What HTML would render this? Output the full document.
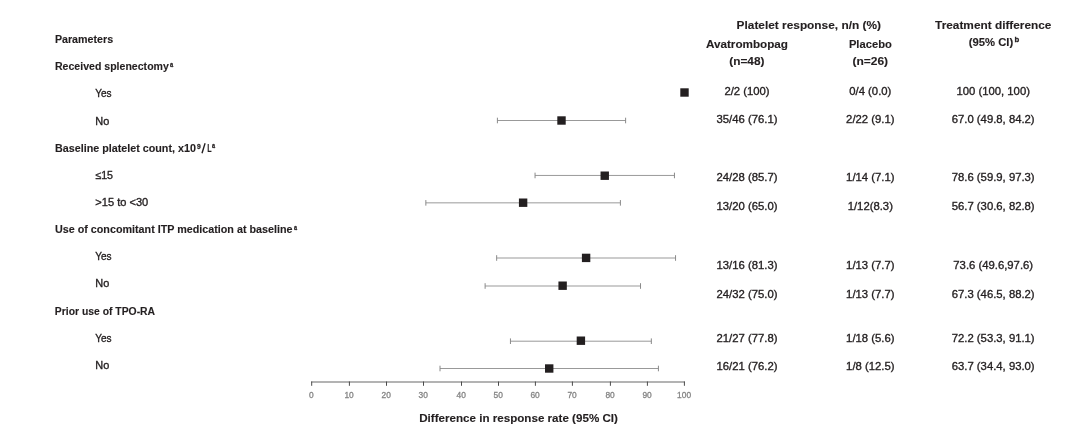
<!DOCTYPE html>
<html><head><meta charset="utf-8"><style>
html,body{margin:0;padding:0;background:#fff;width:1080px;height:436px;overflow:hidden}
svg{display:block;will-change:transform}
text{font-family:"Liberation Sans",sans-serif;fill:#231f20;stroke:#231f20;stroke-width:0.35px}
.b{font-weight:bold;stroke-width:0.12px}
.t{fill:#8a8a8a}
</style></head><body>
<svg width="1080" height="436" viewBox="0 0 1080 436">
<rect width="1080" height="436" fill="#fff"/>

<text transform="translate(54.90 43.10) scale(0.9891 1)" font-size="10.80" class="b">Parameters</text>
<text transform="translate(55.00 70.10) scale(0.9789 1)" font-size="10.80" class="b">Received splenectomy</text>
<text transform="translate(169.90 66.70) scale(0.7578 1)" font-size="7.50" class="b" style="stroke-width:0.3px">a</text>
<text transform="translate(55.00 152.00) scale(0.9954 1)" font-size="10.80" class="b">Baseline platelet count, x10</text>
<text transform="translate(197.10 148.60) scale(0.8993 1)" font-size="7.40" class="b" style="stroke-width:0.3px">9</text>
<line x1="202.0" y1="153.3" x2="205.1" y2="143.3" stroke="#231f20" stroke-width="1.35"/>
<text transform="translate(207.30 152.00) scale(0.6668 1)" font-size="10.80" class="b">L</text>
<text transform="translate(212.10 148.30) scale(0.7342 1)" font-size="7.50" class="b" style="stroke-width:0.3px">a</text>
<text transform="translate(55.00 233.00) scale(0.9964 1)" font-size="10.80" class="b">Use of concomitant ITP medication at baseline</text>
<text transform="translate(294.00 229.90) scale(0.7342 1)" font-size="7.50" class="b" style="stroke-width:0.3px">a</text>
<text transform="translate(54.80 315.00) scale(0.9625 1)" font-size="10.80" class="b">Prior use of TPO-RA</text>
<text transform="translate(95.20 97.10) scale(0.9141 1)" font-size="11.00">Yes</text>
<text transform="translate(95.30 124.70) scale(0.9959 1)" font-size="11.00">No</text>
<text transform="translate(95.30 178.90) scale(0.9687 1)" font-size="11.00">≤15</text>
<text transform="translate(95.30 205.70) scale(1.0076 1)" font-size="11.00">&gt;15 to &lt;30</text>
<text transform="translate(95.20 260.00) scale(0.9141 1)" font-size="11.00">Yes</text>
<text transform="translate(95.30 287.40) scale(0.9959 1)" font-size="11.00">No</text>
<text transform="translate(95.20 342.20) scale(0.9141 1)" font-size="11.00">Yes</text>
<text transform="translate(95.30 369.20) scale(0.9959 1)" font-size="11.00">No</text>
<text transform="translate(736.60 28.60) scale(1.0326 1)" font-size="11.50" class="b">Platelet response, n/n (%)</text>
<text transform="translate(706.00 48.20) scale(1.0171 1)" font-size="11.50" class="b">Avatrombopag</text>
<text transform="translate(729.20 64.50) scale(1.0325 1)" font-size="11.50" class="b">(n=48)</text>
<text transform="translate(848.90 48.20) scale(0.9750 1)" font-size="11.50" class="b">Placebo</text>
<text transform="translate(852.40 64.50) scale(1.0442 1)" font-size="11.50" class="b">(n=26)</text>
<text transform="translate(935.10 29.30) scale(1.0299 1)" font-size="11.50" class="b">Treatment difference</text>
<text transform="translate(968.70 45.70) scale(0.9809 1)" font-size="11.50" class="b">(95% CI)</text>
<text x="1014.40" y="42.20" font-size="7.80" class="b" style="stroke-width:0.3px">b</text>
<text x="747.00" y="94.50" font-size="11.30" text-anchor="middle">2/2 (100)</text>
<text x="870.30" y="94.50" font-size="11.30" text-anchor="middle">0/4 (0.0)</text>
<text x="993.20" y="94.50" font-size="11.30" text-anchor="middle">100 (100, 100)</text>
<text x="747.00" y="123.00" font-size="11.30" text-anchor="middle">35/46 (76.1)</text>
<text x="870.30" y="123.00" font-size="11.30" text-anchor="middle">2/22 (9.1)</text>
<text x="993.20" y="123.00" font-size="11.30" text-anchor="middle">67.0 (49.8, 84.2)</text>
<text x="747.00" y="181.30" font-size="11.30" text-anchor="middle">24/28 (85.7)</text>
<text x="870.30" y="181.30" font-size="11.30" text-anchor="middle">1/14 (7.1)</text>
<text x="993.20" y="181.30" font-size="11.30" text-anchor="middle">78.6 (59.9, 97.3)</text>
<text x="747.00" y="210.30" font-size="11.30" text-anchor="middle">13/20 (65.0)</text>
<text x="870.30" y="210.30" font-size="11.30" text-anchor="middle">1/12(8.3)</text>
<text x="993.20" y="210.30" font-size="11.30" text-anchor="middle">56.7 (30.6, 82.8)</text>
<text x="747.00" y="268.50" font-size="11.30" text-anchor="middle">13/16 (81.3)</text>
<text x="870.30" y="268.50" font-size="11.30" text-anchor="middle">1/13 (7.7)</text>
<text x="993.20" y="268.50" font-size="11.30" text-anchor="middle">73.6 (49.6,97.6)</text>
<text x="747.00" y="297.70" font-size="11.30" text-anchor="middle">24/32 (75.0)</text>
<text x="870.30" y="297.70" font-size="11.30" text-anchor="middle">1/13 (7.7)</text>
<text x="993.20" y="297.70" font-size="11.30" text-anchor="middle">67.3 (46.5, 88.2)</text>
<text x="747.00" y="341.60" font-size="11.30" text-anchor="middle">21/27 (77.8)</text>
<text x="870.30" y="341.60" font-size="11.30" text-anchor="middle">1/18 (5.6)</text>
<text x="993.20" y="341.60" font-size="11.30" text-anchor="middle">72.2 (53.3, 91.1)</text>
<text x="747.00" y="370.30" font-size="11.30" text-anchor="middle">16/21 (76.2)</text>
<text x="870.30" y="370.30" font-size="11.30" text-anchor="middle">1/8 (12.5)</text>
<text x="993.20" y="370.30" font-size="11.30" text-anchor="middle">63.7 (34.4, 93.0)</text>
<rect x="680.30" y="88.30" width="8.4" height="8.4" fill="#231f20"/>
<line x1="497.40" y1="120.50" x2="625.61" y2="120.50" stroke="#999" stroke-width="1"/>
<line x1="497.40" y1="117.70" x2="497.40" y2="123.30" stroke="#8a8a8a" stroke-width="1"/>
<line x1="625.61" y1="117.70" x2="625.61" y2="123.30" stroke="#8a8a8a" stroke-width="1"/>
<rect x="557.31" y="116.30" width="8.4" height="8.4" fill="#231f20"/>
<line x1="535.05" y1="175.45" x2="674.44" y2="175.45" stroke="#999" stroke-width="1"/>
<line x1="535.05" y1="172.65" x2="535.05" y2="178.25" stroke="#8a8a8a" stroke-width="1"/>
<line x1="674.44" y1="172.65" x2="674.44" y2="178.25" stroke="#8a8a8a" stroke-width="1"/>
<rect x="600.54" y="171.50" width="8.4" height="8.4" fill="#231f20"/>
<line x1="425.85" y1="202.85" x2="620.40" y2="202.85" stroke="#999" stroke-width="1"/>
<line x1="425.85" y1="200.05" x2="425.85" y2="205.65" stroke="#8a8a8a" stroke-width="1"/>
<line x1="620.40" y1="200.05" x2="620.40" y2="205.65" stroke="#8a8a8a" stroke-width="1"/>
<rect x="518.92" y="198.50" width="8.4" height="8.4" fill="#231f20"/>
<line x1="496.66" y1="258.00" x2="675.56" y2="258.00" stroke="#999" stroke-width="1"/>
<line x1="496.66" y1="255.20" x2="496.66" y2="260.80" stroke="#8a8a8a" stroke-width="1"/>
<line x1="675.56" y1="255.20" x2="675.56" y2="260.80" stroke="#8a8a8a" stroke-width="1"/>
<rect x="581.91" y="253.70" width="8.4" height="8.4" fill="#231f20"/>
<line x1="485.11" y1="286.00" x2="640.52" y2="286.00" stroke="#999" stroke-width="1"/>
<line x1="485.11" y1="283.20" x2="485.11" y2="288.80" stroke="#8a8a8a" stroke-width="1"/>
<line x1="640.52" y1="283.20" x2="640.52" y2="288.80" stroke="#8a8a8a" stroke-width="1"/>
<rect x="558.43" y="281.50" width="8.4" height="8.4" fill="#231f20"/>
<line x1="510.45" y1="341.20" x2="651.33" y2="341.20" stroke="#999" stroke-width="1"/>
<line x1="510.45" y1="338.40" x2="510.45" y2="344.00" stroke="#8a8a8a" stroke-width="1"/>
<line x1="651.33" y1="338.40" x2="651.33" y2="344.00" stroke="#8a8a8a" stroke-width="1"/>
<rect x="576.69" y="336.50" width="8.4" height="8.4" fill="#231f20"/>
<line x1="440.01" y1="368.50" x2="658.41" y2="368.50" stroke="#999" stroke-width="1"/>
<line x1="440.01" y1="365.70" x2="440.01" y2="371.30" stroke="#8a8a8a" stroke-width="1"/>
<line x1="658.41" y1="365.70" x2="658.41" y2="371.30" stroke="#8a8a8a" stroke-width="1"/>
<rect x="545.01" y="364.30" width="8.4" height="8.4" fill="#231f20"/>
<line x1="311.20" y1="382" x2="684.90" y2="382" stroke="#9a9a9a" stroke-width="1.7"/>
<line x1="311.70" y1="381.5" x2="311.70" y2="385.8" stroke="#4a4a4a" stroke-width="1"/>
<text x="311.40" y="398.20" font-size="8.40" text-anchor="middle" style="fill:#858585;stroke:#858585;stroke-width:0.3px">0</text>
<line x1="349.40" y1="381.5" x2="349.40" y2="385.8" stroke="#4a4a4a" stroke-width="1"/>
<text x="349.10" y="398.20" font-size="8.40" text-anchor="middle" style="fill:#858585;stroke:#858585;stroke-width:0.3px">10</text>
<line x1="386.50" y1="381.5" x2="386.50" y2="385.8" stroke="#4a4a4a" stroke-width="1"/>
<text x="386.20" y="398.20" font-size="8.40" text-anchor="middle" style="fill:#858585;stroke:#858585;stroke-width:0.3px">20</text>
<line x1="423.50" y1="381.5" x2="423.50" y2="385.8" stroke="#4a4a4a" stroke-width="1"/>
<text x="423.20" y="398.20" font-size="8.40" text-anchor="middle" style="fill:#858585;stroke:#858585;stroke-width:0.3px">30</text>
<line x1="461.50" y1="381.5" x2="461.50" y2="385.8" stroke="#4a4a4a" stroke-width="1"/>
<text x="461.20" y="398.20" font-size="8.40" text-anchor="middle" style="fill:#858585;stroke:#858585;stroke-width:0.3px">40</text>
<line x1="498.50" y1="381.5" x2="498.50" y2="385.8" stroke="#4a4a4a" stroke-width="1"/>
<text x="498.20" y="398.20" font-size="8.40" text-anchor="middle" style="fill:#858585;stroke:#858585;stroke-width:0.3px">50</text>
<line x1="535.40" y1="381.5" x2="535.40" y2="385.8" stroke="#4a4a4a" stroke-width="1"/>
<text x="535.10" y="398.20" font-size="8.40" text-anchor="middle" style="fill:#858585;stroke:#858585;stroke-width:0.3px">60</text>
<line x1="572.40" y1="381.5" x2="572.40" y2="385.8" stroke="#4a4a4a" stroke-width="1"/>
<text x="572.10" y="398.20" font-size="8.40" text-anchor="middle" style="fill:#858585;stroke:#858585;stroke-width:0.3px">70</text>
<line x1="610.40" y1="381.5" x2="610.40" y2="385.8" stroke="#4a4a4a" stroke-width="1"/>
<text x="610.10" y="398.20" font-size="8.40" text-anchor="middle" style="fill:#858585;stroke:#858585;stroke-width:0.3px">80</text>
<line x1="647.40" y1="381.5" x2="647.40" y2="385.8" stroke="#4a4a4a" stroke-width="1"/>
<text x="647.10" y="398.20" font-size="8.40" text-anchor="middle" style="fill:#858585;stroke:#858585;stroke-width:0.3px">90</text>
<line x1="684.40" y1="381.5" x2="684.40" y2="385.8" stroke="#4a4a4a" stroke-width="1"/>
<text x="684.10" y="398.20" font-size="8.40" text-anchor="middle" style="fill:#858585;stroke:#858585;stroke-width:0.3px">100</text>
<text transform="translate(419.20 422.30) scale(1.0109 1)" font-size="11.50" class="b">Difference in response rate (95% CI)</text>
</svg>
</body></html>
